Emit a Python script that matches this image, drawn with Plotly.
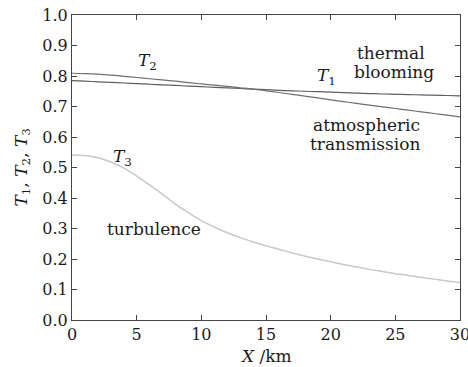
import plotly.graph_objects as go

x_km = list(range(0, 31))
t1_thermal_blooming = [0.785, 0.783, 0.781, 0.779, 0.777, 0.775, 0.773, 0.771, 0.769, 0.767,
                       0.765, 0.763, 0.761, 0.759, 0.757, 0.755, 0.753, 0.7515, 0.750, 0.7485,
                       0.747, 0.7455, 0.744, 0.7425, 0.741, 0.740, 0.739, 0.738, 0.737, 0.736, 0.735]
t2_atmospheric = [0.809, 0.808, 0.806, 0.803, 0.799, 0.795, 0.791, 0.787, 0.783, 0.778,
                  0.774, 0.770, 0.766, 0.7615, 0.757, 0.7515, 0.746, 0.740, 0.734, 0.728,
                  0.722, 0.716, 0.710, 0.7045, 0.699, 0.6935, 0.688, 0.6825, 0.677, 0.6715, 0.666]
t3_turbulence = [0.541, 0.539, 0.532, 0.518, 0.498, 0.472, 0.443, 0.412, 0.380, 0.352,
                 0.326, 0.305, 0.286, 0.270, 0.256, 0.243, 0.232, 0.220, 0.210, 0.200,
                 0.191, 0.182, 0.174, 0.166, 0.159, 0.152, 0.146, 0.140, 0.134, 0.128, 0.123]

x_ticks = [0, 5, 10, 15, 20, 25, 30]
y_ticks = [0.0, 0.1, 0.2, 0.3, 0.4, 0.5, 0.6, 0.7, 0.8, 0.9, 1.0]

FONT = "DejaVu Serif"
INK = "#1a1a1a"

fig = go.Figure()
fig.add_trace(go.Scatter(x=x_km, y=t1_thermal_blooming, mode="lines",
                         line=dict(color="#5e5e5e", width=1.2), line_shape="spline"))
fig.add_trace(go.Scatter(x=x_km, y=t2_atmospheric, mode="lines",
                         line=dict(color="#6e6e6e", width=1.2), line_shape="spline"))
fig.add_trace(go.Scatter(x=x_km, y=t3_turbulence, mode="lines",
                         line=dict(color="#c8c8c8", width=1.5), line_shape="spline"))

annots = [
    ("<i>T</i><sub>2</sub>", 5.8, 0.849),
    ("<i>T</i><sub>1</sub>", 19.64, 0.80),
    ("thermal", 24.67, 0.875),
    ("blooming", 24.86, 0.813),
    ("atmospheric", 22.74, 0.639),
    ("transmission", 22.66, 0.577),
    ("<i>T</i><sub>3</sub>", 3.94, 0.534),
    ("turbulence", 6.34, 0.298),
]
for txt, ax_, ay_ in annots:
    fig.add_annotation(x=ax_, y=ay_, text=txt, showarrow=False,
                       font=dict(family=FONT, size=17, color=INK))

# axis titles
fig.add_annotation(xref="paper", yref="paper", x=0.5, y=0, yshift=-36,
                   xanchor="center", yanchor="middle",
                   text="<i>X</i> /km", showarrow=False,
                   font=dict(family=FONT, size=17, color=INK))
fig.add_annotation(xref="paper", yref="paper", x=0, xshift=-50, y=0.5,
                   xanchor="center", yanchor="middle",
                   text="<i>T</i><sub>1</sub>, <i>T</i><sub>2</sub>, <i>T</i><sub>3</sub>",
                   textangle=-90, showarrow=False,
                   font=dict(family=FONT, size=17, color=INK))

axis_common = dict(showline=True, linecolor="#444", linewidth=1, mirror="ticks",
                   ticks="inside", ticklen=5, tickcolor="#444", showgrid=False,
                   zeroline=False, automargin=False, ticklabeloverflow="allow",
                   tickfont=dict(family=FONT, size=16, color=INK))

fig.update_layout(
    width=468, height=367,
    margin=dict(l=72, r=8, t=15, b=47),
    paper_bgcolor="white", plot_bgcolor="white",
    showlegend=False,
    xaxis=dict(range=[0, 30], tickvals=x_ticks, **axis_common),
    yaxis=dict(range=[0, 1.0], tickvals=y_ticks, tickformat=".1f", **axis_common),
)

# remove the default page margin so the figure sits at the window's top-left corner
fig.write_html(
    "out.html",
    config={"displayModeBar": False},
    post_script="document.body.style.margin='0';document.body.style.overflow='hidden';",
)
